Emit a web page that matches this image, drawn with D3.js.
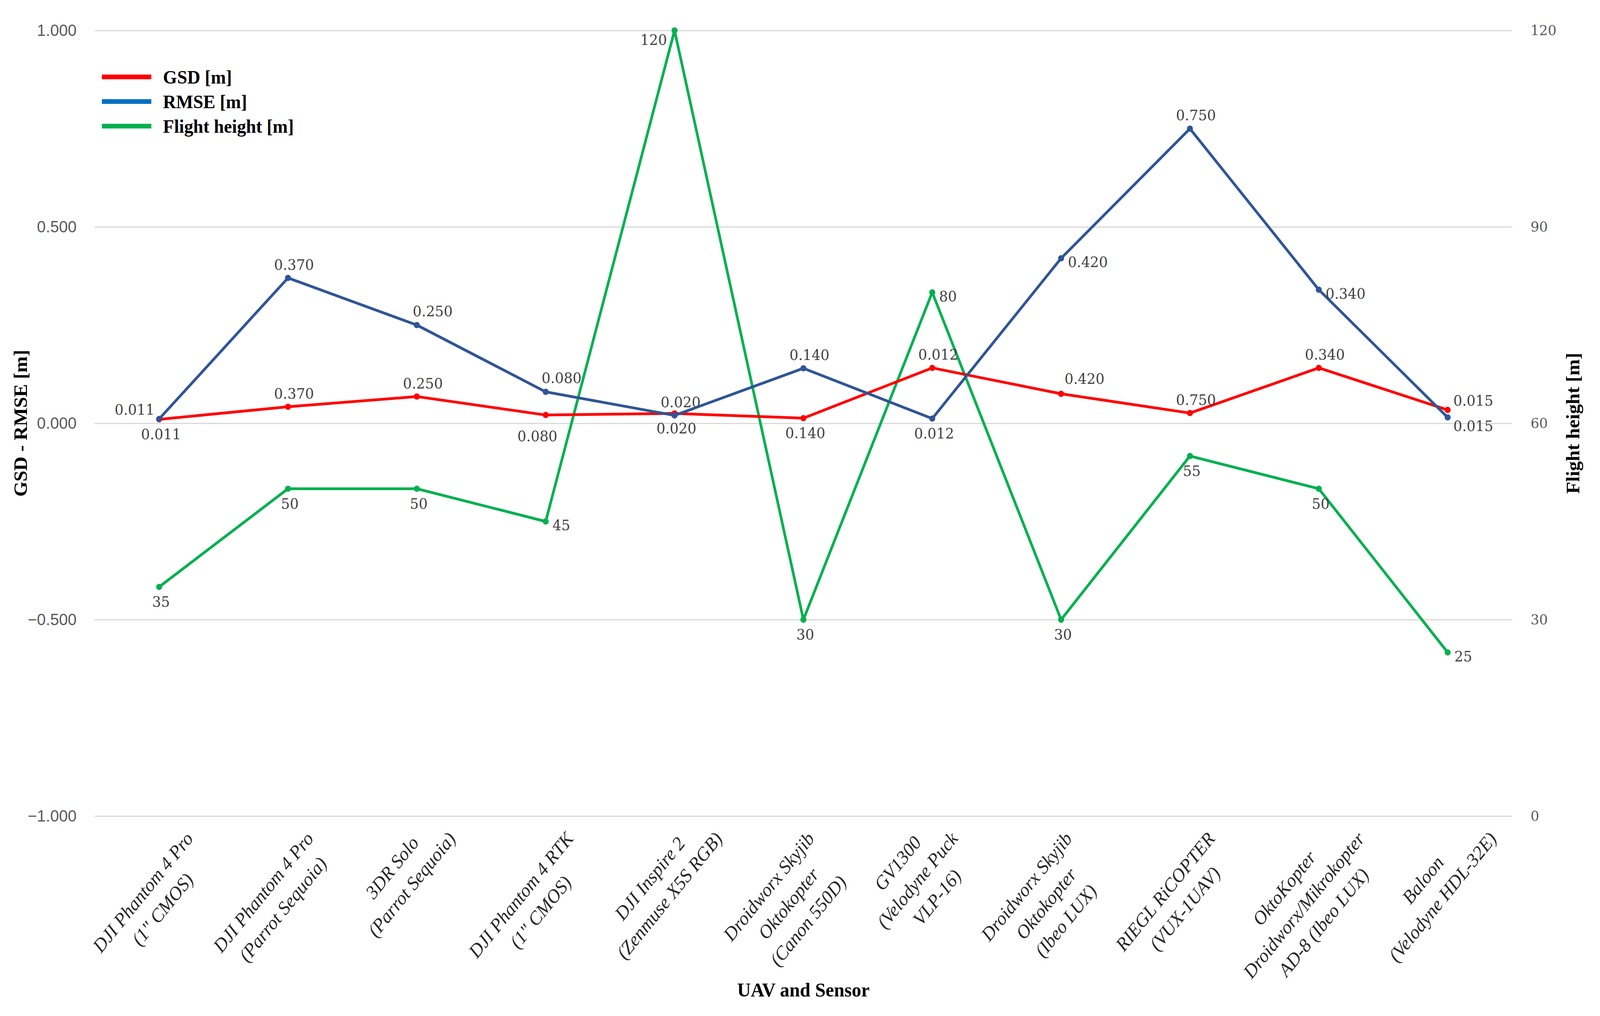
<!DOCTYPE html>
<html>
<head>
<meta charset="utf-8">
<script src="https://cdn.jsdelivr.net/npm/d3@7"></script>
<style>
  html, body { margin: 0; padding: 0; background: #fff; overflow: hidden; }
  svg { display: block; width: 100vw; height: 100vh; }
  .tick-left text { font-family: "Liberation Sans", Arial, sans-serif; font-size: 42px; fill: #595959; }
  .tick-right text { font-family: "DejaVu Serif", serif; font-size: 36px; fill: #595959; }
  .data-label { font-family: "DejaVu Serif", serif; font-size: 37px; fill: #404040; }
  .cat-label { font-family: "Liberation Serif", serif; font-style: italic; font-size: 49px; fill: #262626; }
  .axis-title { font-family: "Liberation Serif", serif; font-weight: bold; font-size: 50px; fill: #000; }
  .legend-text { font-family: "Liberation Serif", serif; font-weight: bold; font-size: 48px; fill: #000; }
</style>
</head>
<body>
<script>
// categories (UAV and sensor), one entry per line of the label
const categories = [
  ['DJI Phantom 4 Pro', '(1" CMOS)'],
  ['DJI Phantom 4 Pro', '(Parrot Sequoia)'],
  ['3DR Solo', '(Parrot Sequoia)'],
  ['DJI Phantom 4 RTK', '(1" CMOS)'],
  ['DJI Inspire 2', '(Zenmuse X5S RGB)'],
  ['Droidworx Skyjib', 'Oktokopter', '(Canon 550D)'],
  ['GV1300', '(Velodyne Puck', 'VLP-16)'],
  ['Droidworx Skyjib', 'Oktokopter', '(Ibeo LUX)'],
  ['RIEGL RiCOPTER', '(VUX-1UAV)'],
  ['OktoKopter', 'Droidworx/Mikrokopter', 'AD-8 (Ibeo LUX)'],
  ['Baloon', '(Velodyne HDL-32E)']
]

const gsd = [0.010, 0.042, 0.068, 0.021, 0.025, 0.013, 0.141, 0.075, 0.026, 0.141, 0.034]
const rmse = [0.011, 0.370, 0.250, 0.080, 0.020, 0.140, 0.012, 0.420, 0.750, 0.340, 0.015]
const flightHeight = [35, 50, 50, 45, 120, 30, 80, 30, 55, 50, 25]

const leftTicks = [-1, -0.5, 0, 0.5, 1]
const rightTicks = [0, 30, 60, 90, 120]

const seriesNames = ['GSD [m]', 'RMSE [m]', 'Flight height [m]']

// where each data label sits around its point
const gsdLabelPos = ['below', 'above', 'above', 'belowLeft', 'below', 'below', 'above', 'aboveRight2', 'above', 'above', 'rightUp']
const rmseLabelPos = ['leftUp', 'above', 'aboveRight', 'aboveRight', 'above', 'above', 'below', 'right', 'above', 'right', 'rightDown']
const heightLabelPos = ['below', 'below', 'below', 'right', 'leftDown', 'below', 'right', 'below', 'below', 'below', 'right']

const labelOffsets = {
  above: {anchor: 'middle', dx: 16, dy: -34},
  aboveRight: {anchor: 'middle', dx: 42, dy: -35},
  aboveRight2: {anchor: 'middle', dx: 62, dy: -38},
  below: {anchor: 'middle', dx: 5, dy: 38},
  belowLeft: {anchor: 'middle', dx: -22, dy: 54},
  leftUp: {anchor: 'end', dx: -12, dy: -24},
  leftDown: {anchor: 'end', dx: -20, dy: 24},
  right: {anchor: 'start', dx: 18, dy: 10},
  rightUp: {anchor: 'start', dx: 15, dy: -24},
  rightDown: {anchor: 'start', dx: 15, dy: 22}
}

const width = 4240
const height = 2602
const plot = {left: 251, right: 4007, top: 78, bottom: 2090}

const svg = d3.select('body').append('svg')
  .attr('viewBox', `0 0 ${width} ${height}`)
  .attr('preserveAspectRatio', 'none')

const x = d3.scalePoint()
  .domain(d3.range(categories.length))
  .range([plot.left, plot.right])
  .padding(0.5)

const yLeft = d3.scaleLinear()
  .domain([-1, 1])
  .range([plot.bottom, plot.top])

const yRight = d3.scaleLinear()
  .domain([0, 120])
  .range([plot.bottom, plot.top])

// gridlines
svg.append('g')
  .attr('transform', `translate(${plot.left},0)`)
  .call(d3.axisLeft(yLeft).tickValues(leftTicks).tickSize(-(plot.right - plot.left)).tickFormat(''))
  .call(g => g.select('.domain').remove())
  .call(g => g.selectAll('line').attr('stroke', '#d9d9d9').attr('stroke-width', 3))

// left axis
svg.append('g')
  .attr('class', 'tick-left')
  .attr('transform', `translate(${plot.left},0)`)
  .call(d3.axisLeft(yLeft).tickValues(leftTicks).tickSize(0).tickPadding(48).tickFormat(d3.format('.3f')))
  .call(g => g.select('.domain').remove())
  .call(g => g.selectAll('text').attr('font-family', null).attr('font-size', null))

// right axis
svg.append('g')
  .attr('class', 'tick-right')
  .attr('transform', `translate(${plot.right},0)`)
  .call(d3.axisRight(yRight).tickValues(rightTicks).tickSize(0).tickPadding(49))
  .call(g => g.select('.domain').remove())
  .call(g => g.selectAll('text').attr('font-family', null).attr('font-size', null))

// category labels, rotated -50deg, lines centred on each other.
// block centred a little left of the tick (never left of the plot), top of the text just under the axis
const catG = svg.append('g')
const lineH = 68
const angle = 50 * Math.PI / 180
const labelTop = 2127
categories.forEach((lines, i) => {
  const g = catG.append('g')
  const texts = g.selectAll('text')
    .data(lines)
    .enter()
    .append('text')
    .attr('class', 'cat-label')
    .attr('text-anchor', 'middle')
    .attr('x', 0)
    .attr('y', (d, j) => (j - (lines.length - 1) / 2) * lineH)
    .attr('dy', '0.35em')
    .text(d => d)
  const widths = texts.nodes().map(n => n.getComputedTextLength())
  const maxW = d3.max(widths)
  const boxH = lines.length * lineH
  const spanX = maxW * Math.cos(angle) + boxH * Math.sin(angle)
  const cx = Math.max(x(i) - 40, plot.left - 22 + spanX / 2)
  const top = d3.min(widths, (w, j) =>
    -Math.sin(angle) * w / 2 + Math.cos(angle) * ((j - (lines.length - 1) / 2) * lineH - 17))
  g.attr('transform', `translate(${cx},${labelTop - top}) rotate(-50)`)
})

// axis titles
svg.append('text')
  .attr('class', 'axis-title')
  .attr('text-anchor', 'middle')
  .attr('transform', `translate(54,${(plot.top + plot.bottom) / 2}) rotate(-90)`)
  .attr('dy', '0.35em')
  .text('GSD - RMSE [m]')

svg.append('text')
  .attr('class', 'axis-title')
  .attr('text-anchor', 'middle')
  .attr('transform', `translate(4168,${(plot.top + plot.bottom) / 2}) rotate(-90)`)
  .attr('dy', '0.35em')
  .text('Flight height [m]')

svg.append('text')
  .attr('class', 'axis-title')
  .attr('text-anchor', 'middle')
  .attr('x', (plot.left + plot.right) / 2)
  .attr('y', 2552)
  .text('UAV and Sensor')

// series
const series = [
  {values: gsd, scale: yLeft, color: '#ff0000', labels: rmse.map(d => d3.format('.3f')(d)), pos: gsdLabelPos},
  {values: rmse, scale: yLeft, color: '#2f5597', labels: rmse.map(d => d3.format('.3f')(d)), pos: rmseLabelPos},
  {values: flightHeight, scale: yRight, color: '#00b050', labels: flightHeight.map(String), pos: heightLabelPos}
]
const drawOrder = [2, 0, 1]

drawOrder.forEach(k => {
  const s = series[k]
  const line = d3.line()
    .x((d, i) => x(i))
    .y(d => s.scale(d))

  svg.append('path')
    .datum(s.values)
    .attr('fill', 'none')
    .attr('stroke', s.color)
    .attr('stroke-width', 7)
    .attr('stroke-linejoin', 'round')
    .attr('d', line)

  svg.append('g').selectAll('circle')
    .data(s.values)
    .enter()
    .append('circle')
    .attr('cx', (d, i) => x(i))
    .attr('cy', d => s.scale(d))
    .attr('r', 8)
    .attr('fill', s.color)
})

series.forEach(s => {
  svg.append('g').selectAll('text')
    .data(s.values)
    .enter()
    .append('text')
    .attr('class', 'data-label')
    .attr('text-anchor', (d, i) => labelOffsets[s.pos[i]].anchor)
    .attr('x', (d, i) => x(i) + labelOffsets[s.pos[i]].dx)
    .attr('y', (d, i) => s.scale(d) + labelOffsets[s.pos[i]].dy)
    .attr('dy', '0.35em')
    .text((d, i) => s.labels[i])
})

// legend
const legendColors = ['#ff0000', '#0070c0', '#00b050']
const legend = svg.append('g')
  .attr('transform', 'translate(270,197)')

legend.selectAll('line')
  .data(seriesNames)
  .enter()
  .append('line')
  .attr('x1', 0)
  .attr('x2', 131)
  .attr('y1', (d, i) => i * 63)
  .attr('y2', (d, i) => i * 63)
  .attr('stroke', (d, i) => legendColors[i])
  .attr('stroke-width', 12)

legend.selectAll('text')
  .data(seriesNames)
  .enter()
  .append('text')
  .attr('class', 'legend-text')
  .attr('x', 162)
  .attr('y', (d, i) => i * 63)
  .attr('dy', '0.35em')
  .text(d => d)
</script>
</body>
</html>
